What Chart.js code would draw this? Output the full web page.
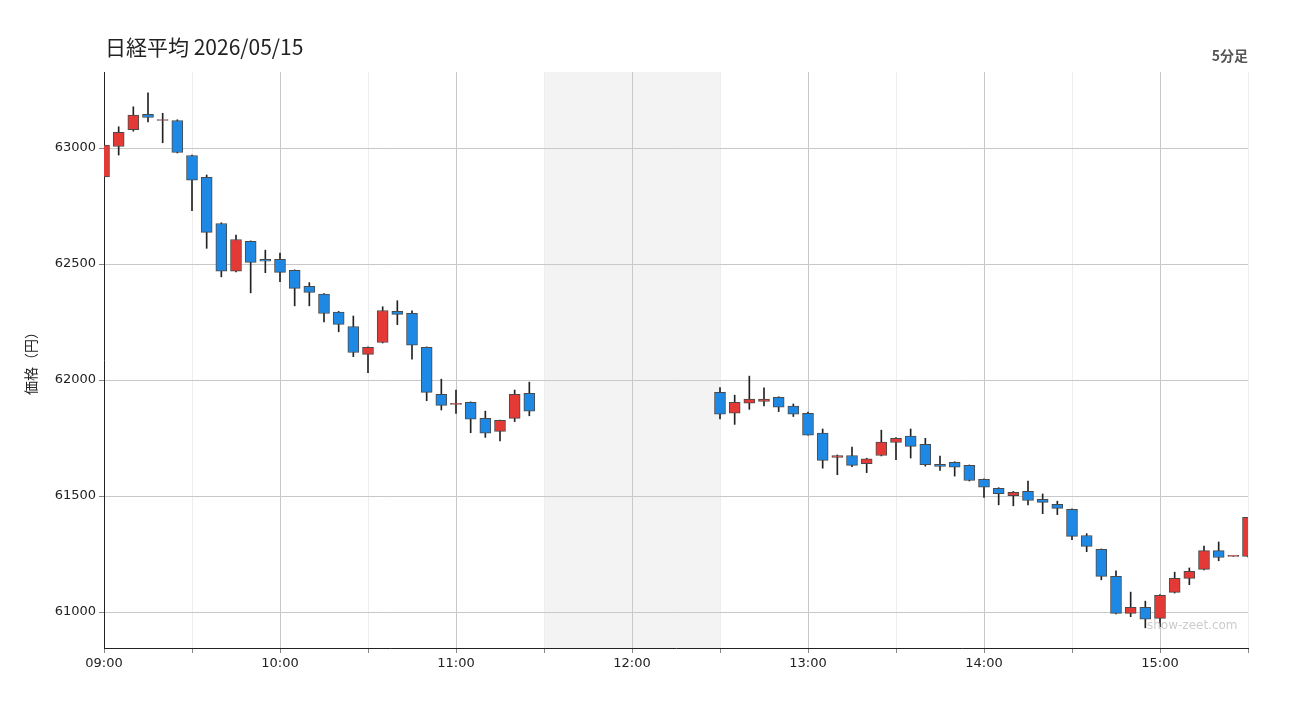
<!DOCTYPE html>
<html><head><meta charset="utf-8">
<script src="https://cdn.jsdelivr.net/npm/chart.js@4"></script>
<style>
body{margin:0;background:#fff;}
#wrap{position:relative;width:1300px;height:720px;}
#title{position:absolute;left:105px;top:31px;font-family:"Noto Sans CJK JP";font-size:21px;color:#222;}
#tf{position:absolute;right:52px;top:45px;font-family:"Noto Sans CJK JP";font-size:14px;font-weight:bold;color:#555;}
#wm{position:absolute;left:1147px;top:618px;font-family:"DejaVu Sans";font-size:12px;color:#ccc;}
</style></head><body>
<div id="wrap"><canvas id="c" width="1300" height="720"></canvas>
<div id="title">日経平均 2026/05/15</div><div id="tf">5分足</div><div id="wm">show-zeet.com</div></div>
<script>
const N=null;
const opens =[62876,63007,63079,63146,63119,63119,62968,62874,62675,62469,62598,62520,62520,62473,62404,62371,62293,62231,62111,62162,62296,62288,62141,61938,61895,61904,61835,61779,61835,61943,N,N,N,N,N,N,N,N,N,N,N,N,61947,61857,61900,61908,61926,61888,61857,61772,61667,61675,61640,61675,61731,61758,61723,61637,61645,61632,61572,61533,61502,61520,61486,61464,61443,61330,61270,61154,60994,61020,60973,61085,61145,61184,61265,61240,61240];
const highs =[63086,63092,63178,63238,63150,63122,62970,62884,62678,62625,62600,62560,62547,62475,62420,62373,62296,62276,62143,62316,62342,62298,62143,62004,61957,61906,61866,61828,61957,61991,N,N,N,N,N,N,N,N,N,N,N,N,61968,61935,62017,61967,61928,61897,61862,61789,61677,61711,61663,61784,61752,61789,61749,61672,61648,61634,61574,61536,61520,61565,61509,61478,61445,61338,61272,61178,61086,61047,61075,61172,61190,61284,61302,61240,61408];
const lows  =[62797,62970,63073,63113,63023,62979,62730,62568,62445,62466,62376,62463,62424,62320,62320,62251,62208,62101,62032,62160,62239,62090,61911,61871,61856,61773,61753,61738,61821,61846,N,N,N,N,N,N,N,N,N,N,N,N,61833,61809,61874,61889,61864,61843,61762,61620,61592,61627,61601,61673,61657,61664,61629,61610,61586,61565,61494,61462,61458,61462,61424,61420,61312,61260,61139,60992,60980,60932,60937,61082,61118,61182,61221,61240,61238];
const closes=[63013,63068,63142,63132,63119,62981,62862,62637,62469,62606,62507,62512,62464,62395,62378,62287,62240,62119,62141,62300,62283,62150,61947,61891,61895,61831,61771,61826,61938,61866,N,N,N,N,N,N,N,N,N,N,N,N,61853,61904,61918,61918,61883,61853,61762,61654,61675,61632,61661,61733,61749,61714,61635,61628,61624,61567,61538,61510,61516,61481,61473,61447,61326,61283,61154,60994,61020,60969,61072,61145,61175,61265,61235,61240,61408];
const yTicks=[61000,61500,62000,62500,63000];
const labels=[];
for(let i=0;i<79;i++){const m=540+i*5;labels.push(String(Math.floor(m/60)).padStart(2,'0')+':'+String(m%60).padStart(2,'0'));}
const bodies=opens.map((o,i)=>o===null?null:[o,closes[i]]);
const wicks=highs.map((h,i)=>h===null?null:[lows[i],h]);
const up=i=>closes[i]>=opens[i];
const shade={id:'shade',beforeDraw(ch){const x=ch.scales.x,a=ch.chartArea,c=ch.ctx;
 const x0=x.getPixelForValue(30),x1=x.getPixelForValue(42);c.save();c.fillStyle='#f3f3f3';c.fillRect(x0,a.top,x1-x0,a.bottom-a.top);c.restore();}};
const tv=c=>(c.tick?c.tick.value:c.index);
new Chart(document.getElementById('c'),{type:'bar',
data:{labels,datasets:[
 {data:wicks,grouped:false,order:2,barThickness:1,backgroundColor:'#222',borderWidth:0},
 {data:bodies,grouped:false,order:1,barThickness:11,minBarLength:1,borderSkipped:false,borderWidth:1,borderColor:'#4a4a4a',
  backgroundColor:c=>up(c.dataIndex)?'#e53935':'#1e88e5'}]},
options:{responsive:false,animation:false,events:[],
 layout:{padding:{left:18,right:52,top:72,bottom:0}},
 plugins:{legend:{display:false},tooltip:{enabled:false}},
 scales:{
  x:{offset:false,afterFit:s=>{s.height=72;},
   grid:{offset:false,color:c=>tv(c)%12===0?'#c8c8c8':(tv(c)%6===0?'#eeeeee':'rgba(0,0,0,0)'),tickLength:5,
     tickColor:c=>tv(c)%6===0?'#888':'rgba(0,0,0,0)'},
   border:{color:'#222'},
   ticks:{autoSkip:false,maxRotation:0,color:'#222',font:{family:'DejaVu Sans',size:13},
     callback:(v,i)=>i%12===0?labels[i]:''}},
  y:{min:60845,max:63328,afterFit:s=>{s.width=86;},
   afterBuildTicks:s=>{s.ticks=yTicks.map(v=>({value:v}));},
   grid:{color:'#c8c8c8',tickLength:5,tickColor:'#888'},border:{color:'#222'},
   ticks:{color:'#222',font:{family:'DejaVu Sans',size:13},callback:v=>String(v)},
   title:{display:true,text:'価格（円）',color:'#222',font:{family:'Noto Sans CJK JP',size:14}}}}},
plugins:[shade]});
</script></body></html>
